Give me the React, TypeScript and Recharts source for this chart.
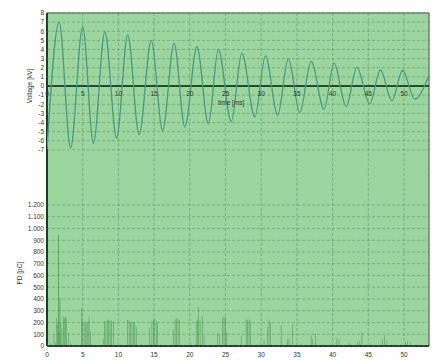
import {
  ComposedChart,
  LineChart,
  Line,
  Bar,
  Cell,
  XAxis,
  YAxis,
  CartesianGrid,
  ReferenceLine,
  ReferenceDot,
} from 'recharts';

// time axis [ms]
const T_MAX = 53.5;
const timeTicks = [0, 5, 10, 15, 20, 25, 30, 35, 40, 45, 50];

// voltage trace: peaks / troughs
const voltTimes = [
  0, 1.7, 3.3, 5.0, 6.5, 8.1, 9.75, 11.3, 12.9, 14.6, 16.2, 17.8, 19.3, 21.0, 22.6, 24.0, 25.8,
  27.3, 29.1, 30.6, 32.3, 33.8, 35.4, 37.0, 38.8, 40.2, 41.9, 43.4, 45.2, 46.7, 48.3, 49.8, 51.5, 53.5,
];
const voltValues = [
  -6.9, 7.0, -6.8, 6.5, -6.3, 5.95, -5.7, 5.6, -5.35, 5.0, -4.9, 4.7, -4.5, 4.3, -4.15, 4.0, -3.9,
  3.6, -3.4, 3.3, -3.2, 3.0, -2.9, 2.7, -2.55, 2.5, -2.25, 2.05, -1.95, 1.75, -1.6, 1.7, -1.45, 1.2,
];
const voltTicks = [-7, -6, -5, -4, -3, -2, -1, 0, 1, 2, 3, 4, 5, 6, 7, 8];
const V_MIN = -28.5; // lets the kV scale sit in the upper part of the panel

// partial discharge pulses
const pdTimes = [
  0.05, 0.5, 0.98, 1.2, 1.35, 1.45, 1.59, 1.7, 1.82, 1.95, 2.1, 2.3, 2.45, 2.6, 2.75, 3.0, 3.3,
  4.85, 5.0, 5.2, 5.4, 5.6, 5.75, 5.9, 6.1,
  7.9, 8.05, 8.25, 8.45, 8.65, 8.85, 9.05, 9.3,
  11.3, 11.5, 11.7, 11.9, 12.1, 12.3, 12.5,
  14.4, 14.7, 14.9, 15.1, 15.3, 15.5,
  17.7, 17.95, 18.15, 18.35, 18.55,
  20.9, 21.1, 21.25, 21.45, 21.75, 22.0,
  23.9, 24.2, 24.6, 24.8, 25.0, 25.2,
  26.2, 27.2, 27.9, 28.1, 28.3, 28.5, 29.5, 30.4, 30.9, 31.1, 31.3, 32.8, 33.7, 33.9, 34.4,
  35.5, 36.2, 37.0, 37.2, 37.6, 38.7, 39.5, 40.6, 40.9, 42.3, 43.5, 43.8, 44.1, 45.5,
  47.0, 47.3, 47.6, 48.5, 50.2, 50.5, 50.9, 52.0,
];
const pdValues = [
  290, 20, 94, 30, 240, 180, 945, 120, 410, 200, 150, 250, 240, 250, 230, 110, 30,
  320, 210, 200, 210, 200, 210, 250, 122,
  60, 210, 215, 220, 225, 220, 215, 210,
  222, 215, 205, 210, 205, 200, 160,
  150, 215, 222, 225, 215, 200,
  140, 230, 235, 230, 220,
  210, 225, 330, 220, 250, 90,
  110, 100, 240, 250, 245, 120,
  15, 90, 225, 220, 225, 210, 10, 50, 160, 225, 200, 175, 60, 65, 185,
  15, 10, 90, 60, 105, 20, 10, 70, 55, 25, 30, 40, 120, 10,
  60, 90, 50, 15, 35, 40, 30, 10,
];
const pdTicks = [0, 100, 200, 300, 400, 500, 600, 700, 800, 900, 1000, 1100, 1200];
const PD_MAX = 2834;

const voltData = voltTimes.map((t, i) => ({ t, v: voltValues[i] }));
const pdData = pdTimes.map((t, i) => ({ t, pd: pdValues[i] }));

const W = 438;
const H = 362;
const FONT = 'Liberation Sans, Arial, sans-serif';
const TICK = { fontSize: 6.5, fill: '#333', fontFamily: FONT };
const AXIS_DARK = '#1f3d26';
const GRID = '#5a8a5e';

const fmtPd = (v: number) =>
  v >= 1000 ? `${Math.floor(v / 1000)}.${String(v % 1000).padStart(3, '0')}` : String(v);

// rotated axis title drawn next to a reference point
const axisTitle = (text: string, dx: number) => (props: any) => {
  const { viewBox } = props;
  const x = viewBox.x - dx;
  const y = viewBox.y;
  return (
    <text
      x={x}
      y={y}
      transform={`rotate(-90 ${x} ${y})`}
      textAnchor="middle"
      dominantBaseline="central"
      fontSize={6.5}
      fontFamily={FONT}
      fill="#333"
    >
      {text}
    </text>
  );
};

export default function App() {
  return (
    <div style={{ position: 'absolute', left: 0, top: 0, width: W, height: H, background: '#fff' }}>
      {/* PD pulses + panel */}
      <ComposedChart
        width={W}
        height={H}
        data={pdData}
        margin={{ top: 13, right: 9, left: 0, bottom: 0 }}
        style={{ position: 'absolute', left: 0, top: 0 }}
      >
        <CartesianGrid fill="#9dd59e" fillOpacity={1} stroke={GRID} strokeDasharray="3 2" strokeOpacity={0.5} />
        <XAxis
          type="number"
          dataKey="t"
          domain={[0, T_MAX]}
          ticks={timeTicks}
          interval={0}
          height={16}
          allowDataOverflow
          axisLine={{ stroke: AXIS_DARK, strokeWidth: 2 }}
          tickLine={false}
          tickSize={0}
          tickMargin={6}
          tick={TICK}
        />
        <YAxis
          type="number"
          domain={[0, PD_MAX]}
          ticks={pdTicks}
          interval={0}
          width={47}
          allowDataOverflow
          axisLine={{ stroke: AXIS_DARK, strokeWidth: 2 }}
          tickLine={false}
          tickSize={0}
          tickMargin={3}
          tick={TICK}
          tickFormatter={fmtPd}
        />
        <ReferenceLine y={PD_MAX} stroke="#6f8a72" strokeWidth={1.5} />
        <ReferenceLine x={T_MAX} stroke="#6f8a72" strokeWidth={1.5} />
        <ReferenceDot x={0} y={620} r={0} fill="none" stroke="none" label={{ content: axisTitle('PD [pC]', 27) }} />
        <Bar dataKey="pd" barSize={1.6} fill="#3a8c45" fillOpacity={0.7} isAnimationActive={false}>
          {pdData.map((d, i) => (
            <Cell key={i} fill={d.pd > 350 ? '#0f7420' : '#3a8c45'} />
          ))}
        </Bar>
      </ComposedChart>

      {/* voltage trace on top */}
      <LineChart
        width={W}
        height={H}
        data={voltData}
        margin={{ top: 13, right: 9, left: 0, bottom: 16 }}
        style={{ position: 'absolute', left: 0, top: 0 }}
      >
        <CartesianGrid vertical={false} stroke={GRID} strokeDasharray="3 2" strokeOpacity={0.5} />
        <XAxis type="number" dataKey="t" domain={[0, T_MAX]} hide allowDataOverflow />
        <YAxis
          type="number"
          domain={[V_MIN, 8]}
          ticks={voltTicks}
          interval={0}
          width={47}
          allowDataOverflow
          axisLine={false}
          tickLine={false}
          tickSize={0}
          tickMargin={3}
          tick={TICK}
        />
        <ReferenceLine y={0} stroke="#264a30" strokeWidth={2} />
        {timeTicks.map((t) => (
          <ReferenceDot
            key={t}
            x={t}
            y={0}
            r={0}
            fill="none"
            stroke="none"
            label={{ value: String(t), position: 'bottom', offset: 5, ...TICK }}
          />
        ))}
        <ReferenceDot
          x={25.8}
          y={-1.85}
          r={0}
          fill="none"
          stroke="none"
          label={{ value: 'time [ms]', position: 'center', ...TICK }}
        />
        <ReferenceDot x={0} y={0} r={0} fill="none" stroke="none" label={{ content: axisTitle('Voltage [kV]', 17) }} />
        <Line
          type="monotone"
          dataKey="v"
          stroke="#4a9a84"
          strokeWidth={1.3}
          dot={false}
          isAnimationActive={false}
        />
      </LineChart>
    </div>
  );
}
